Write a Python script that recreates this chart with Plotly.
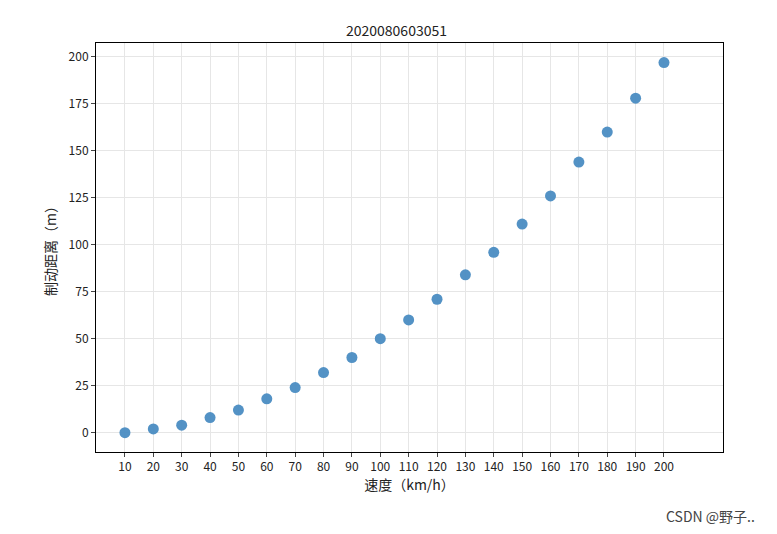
import plotly.graph_objects as go

speeds = [10,20,30,40,50,60,70,80,90,100,110,120,130,140,150,160,170,180,190,200]
distances = [0,2,4,8,12,18,24,32,40,50,60,71,84,96,111,126,144,160,178,197]
tick_labels = [str(s) for s in speeds]

fig = go.Figure(go.Scatter(x=speeds, y=distances, mode="markers",
    marker=dict(size=11, color="#4a8cc2", opacity=0.95)))
fig.update_layout(
    width=777, height=534, paper_bgcolor="white", plot_bgcolor="white",
    margin=dict(l=88, r=62, t=35, b=90),
    font=dict(family="Noto Sans CJK SC, DejaVu Sans", size=12, color="#222"),
    title=dict(text="2020080603051", x=0.5, xanchor="center", y=0.965, font=dict(size=14)),
    showlegend=False,
)
axis = dict(showline=True, linecolor="black", mirror=True, ticks="outside",
            gridcolor="#e6e6e6", zeroline=False, ticklen=4)
fig.update_xaxes(title=dict(text="速度（km/h）", standoff=4), tickvals=speeds, ticktext=tick_labels,
                 range=[-0.2, 220.8], **axis)
fig.update_yaxes(title=dict(text="制动距离（m）", standoff=8), tickvals=[0,25,50,75,100,125,150,175,200],
                 range=[-10.3, 207.4], **axis)
fig.add_annotation(text="CSDN @野子..", xref="paper", yref="paper", x=1.055, y=-0.185,
                   showarrow=False, font=dict(size=14, color="#444"), xanchor="right")
fig.write_html("out.html")
